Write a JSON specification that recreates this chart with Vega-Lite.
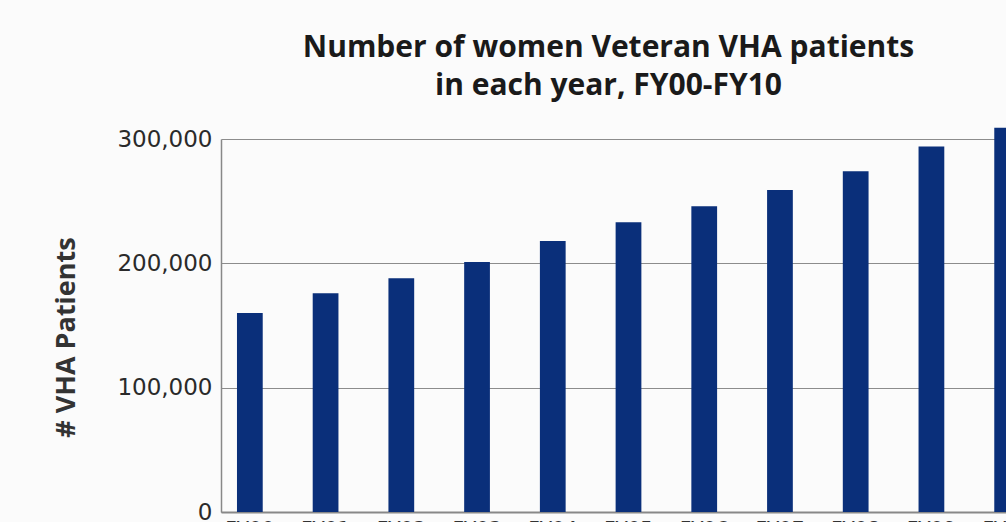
{
  "$schema": "https://vega.github.io/schema/vega-lite/v6.json",
  "width": 785,
  "height": 373,
  "autosize": {"type": "none"},
  "padding": {"left": 221, "top": 139, "right": 0, "bottom": 10},
  "background": "#fbfbfb",
  "title": {
    "text": ["Number of women Veteran VHA patients", "in each year, FY00-FY10"],
    "font": "Open Sans",
    "fontWeight": "bold",
    "fontSize": 30,
    "color": "#1a1a1a",
    "lineHeight": 38,
    "anchor": "middle",
    "frame": "group",
    "dx": -5,
    "offset": 27
  },
  "data": {
    "values": [
      {"year": "FY00", "patients": 160000},
      {"year": "FY01", "patients": 176000},
      {"year": "FY02", "patients": 188000},
      {"year": "FY03", "patients": 201000},
      {"year": "FY04", "patients": 218000},
      {"year": "FY05", "patients": 233000},
      {"year": "FY06", "patients": 246000},
      {"year": "FY07", "patients": 259000},
      {"year": "FY08", "patients": 274000},
      {"year": "FY09", "patients": 294000},
      {"year": "FY10", "patients": 309000}
    ]
  },
  "mark": {"type": "bar", "color": "#0a2f7a"},
  "encoding": {
    "x": {
      "field": "year",
      "type": "ordinal",
      "sort": null,
      "scale": {"range": [0, 815], "paddingInner": 0.66, "paddingOuter": 0.211},
      "axis": {
        "title": null,
        "labelAngle": 0,
        "ticks": false,
        "grid": false,
        "domainColor": "#888888",
        "domainWidth": 2,
        "labelFont": "DejaVu Sans",
        "labelFontSize": 20,
        "labelColor": "#333333",
        "labelPadding": 6
      }
    },
    "y": {
      "field": "patients",
      "type": "quantitative",
      "scale": {"domain": [0, 300000], "nice": false},
      "axis": {
        "title": "# VHA Patients",
        "titleFont": "Open Sans",
        "titleFontWeight": "bold",
        "titleFontSize": 27,
        "titleColor": "#333333",
        "titleAngle": -90,
        "titleAlign": "center",
        "titleBaseline": "middle",
        "titleX": -155,
        "titleY": 198,
        "values": [0, 100000, 200000, 300000],
        "format": ",d",
        "labelFont": "DejaVu Sans",
        "labelFontSize": 23,
        "labelColor": "#2a2a2a",
        "labelPadding": 9,
        "ticks": false,
        "domainColor": "#888888",
        "domainWidth": 1.5,
        "gridColor": "#8c8c8c",
        "gridWidth": 1.2,
        "gridOpacity": 1
      }
    }
  },
  "config": {"view": {"stroke": null}}
}
